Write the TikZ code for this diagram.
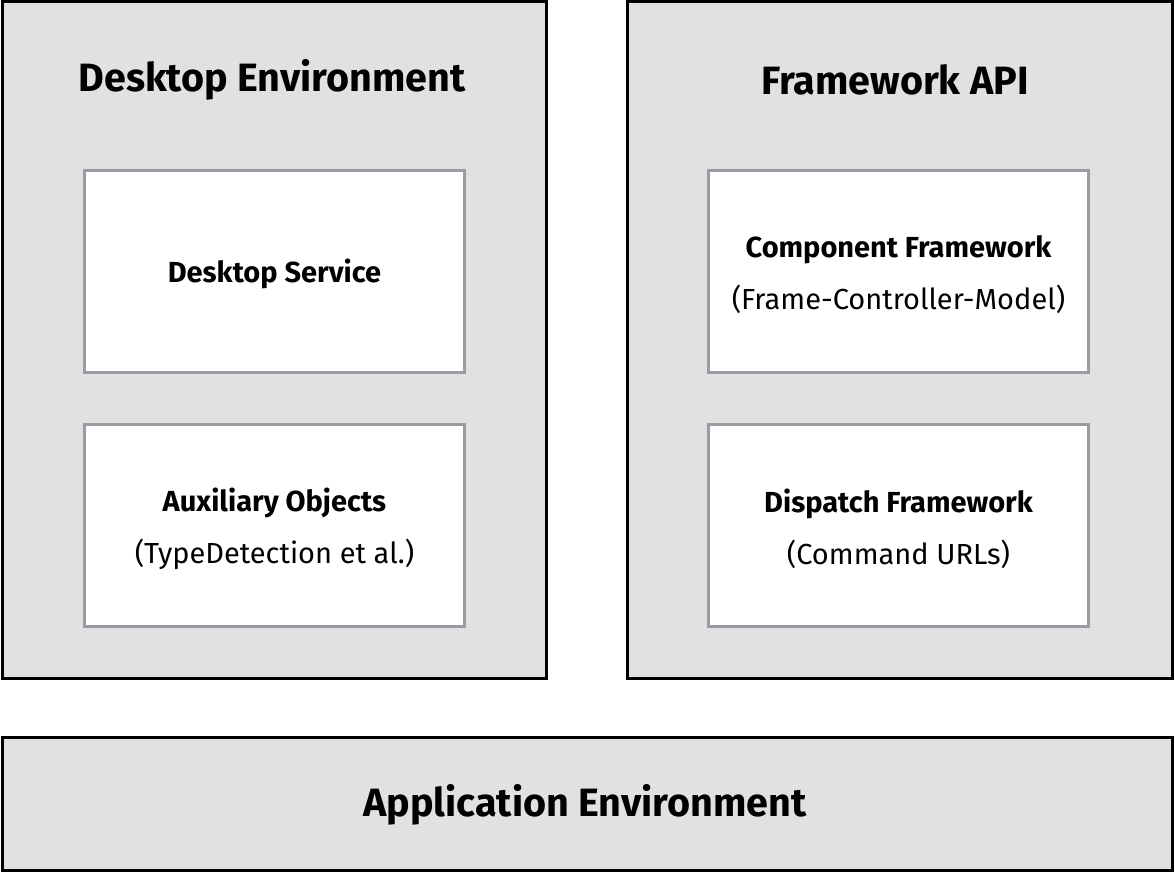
\documentclass[tikz,border=0pt]{standalone}
\usepackage{fontspec}
\setmainfont{Fira Sans}
\definecolor{boxgray}{HTML}{E1E1E1}
\definecolor{innergray}{HTML}{9A9AA2}
\begin{document}
\begin{tikzpicture}[x=1pt,y=-1pt,
  outer/.style={draw=black, line width=3pt, fill=boxgray, inner sep=0pt, outer sep=0pt},
  inner/.style={draw=innergray, line width=3pt, fill=white, minimum width=380pt, minimum height=202pt,
                inner sep=0pt, outer sep=0pt},
  title/.style={font=\fontsize{39.5}{48}\selectfont\bfseries, inner sep=0pt},
  label/.style={inner sep=0pt, align=center, font=\fontsize{29}{52}\selectfont}]
\useasboundingbox (0,0) rectangle (1175,874);
\node[outer, minimum width=544pt, minimum height=676.5pt] (desk) at (274.5,340.25) {};
\node[outer, minimum width=545pt, minimum height=676.5pt] (fw) at (900,340.25) {};
\node[outer, minimum width=1170pt, minimum height=133pt] (app) at (587.5,804) {};
\node[title] (deskT) at (272,80) {Desktop Environment};
\node[title] (fwT) at (895,80) {Framework API};
\node[title] (appT) at (585,805) {Application Environment};
\node[inner] (ds) at (274.5,272) {};
\node[inner] (aux) at (274.5,525.5) {};
\node[inner] (cf) at (898.5,272) {};
\node[inner] (df) at (898.5,525.5) {};
\node[label] (dsT) at ([yshift=-1.5pt]ds.center) {\bfseries Desktop Service};
\node[label] (auxT) at ([yshift=-3pt]aux.center) {{\bfseries Auxiliary Objects}\\(TypeDetection et al.)};
\node[label] (cfT) at ([yshift=-3pt]cf.center) {{\bfseries Component Framework}\\(Frame-Controller-Model)};
\node[label] (dfT) at ([yshift=-3pt]df.center) {{\bfseries Dispatch Framework}\\(Command URLs)};
\end{tikzpicture}
\end{document}
